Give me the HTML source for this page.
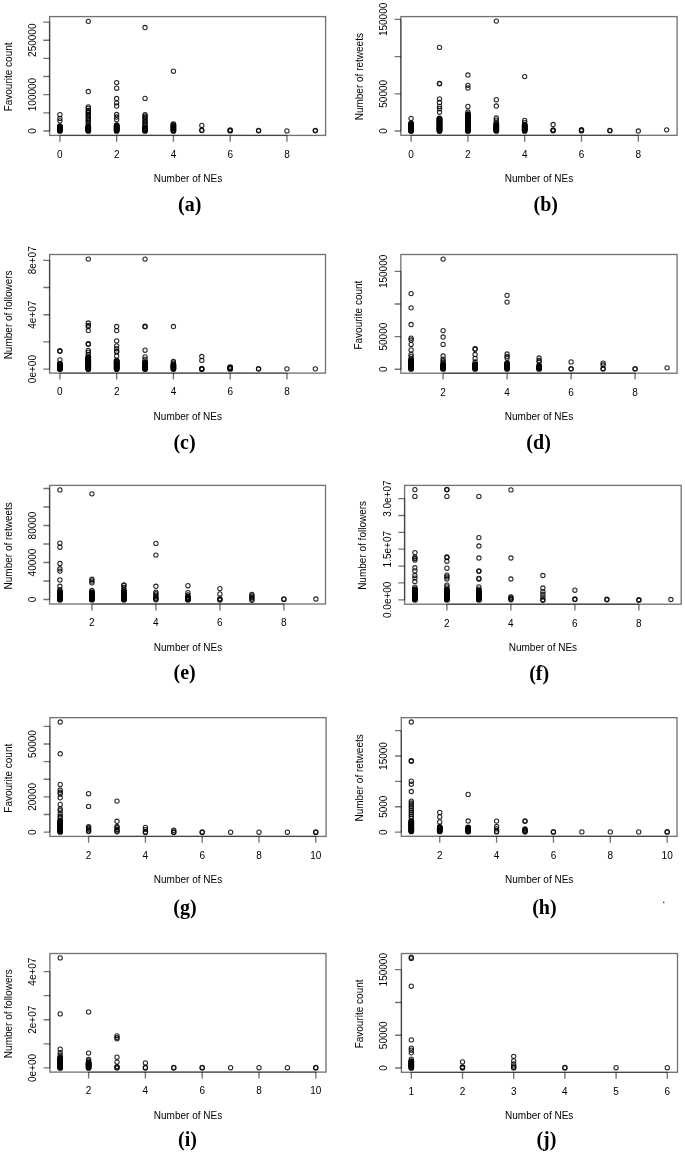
<!DOCTYPE html>
<html><head><meta charset="utf-8"><title>Figure</title>
<style>
html,body{margin:0;padding:0;background:#fff;}
svg{display:block;}
.ln{fill:none;stroke:#000;stroke-opacity:0.55;stroke-width:1.35;}
.ax{fill:none;stroke:#000;stroke-opacity:0.4;stroke-width:1.35;}
.t{font-family:"Liberation Sans", sans-serif;font-size:10px;fill:#000;}
.cap{font-family:"Liberation Serif", serif;font-weight:bold;font-size:20px;fill:#000;}
.c circle{fill:none;stroke:#000;stroke-opacity:0.85;stroke-width:1.05;}
.c circle.d{stroke-width:1.2;}
</style></head>
<body>
<svg width="685" height="1153" viewBox="0 0 685 1153" style="will-change:transform">
<rect width="685" height="1153" fill="#fff"/>
<rect x="49.6" y="16.6" width="276" height="118.8" class="ln"/>
<path d="M59.9 135.4H286.94M49.6 22.05V131" class="ax"/>
<path d="M59.9 135.4V141.8M116.66 135.4V141.8M173.42 135.4V141.8M230.18 135.4V141.8M286.94 135.4V141.8M49.6 131H43.3M49.6 112.84H43.3M49.6 94.68H43.3M49.6 76.53H43.3M49.6 58.37H43.3M49.6 40.21H43.3M49.6 22.05H43.3" class="ln"/>
<text x="59.9" y="157.7" class="t" text-anchor="middle">0</text>
<text x="116.66" y="157.7" class="t" text-anchor="middle">2</text>
<text x="173.42" y="157.7" class="t" text-anchor="middle">4</text>
<text x="230.18" y="157.7" class="t" text-anchor="middle">6</text>
<text x="286.94" y="157.7" class="t" text-anchor="middle">8</text>
<text transform="translate(35.9 131) rotate(-90)" class="t" text-anchor="middle">0</text>
<text transform="translate(35.9 94.5) rotate(-90)" class="t" text-anchor="middle">100000</text>
<text transform="translate(35.9 40.2) rotate(-90)" class="t" text-anchor="middle">250000</text>
<text transform="translate(11.8 76.9) rotate(-90)" class="t" text-anchor="middle">Favourite count</text>
<text x="188" y="182" class="t" text-anchor="middle">Number of NEs</text>
<text x="189.7" y="210.9" class="cap" text-anchor="middle">(a)</text>
<g class="c"><circle cx="59.9" cy="114.7" r="2.15"/><circle cx="59.9" cy="118.4" r="2.15"/><circle cx="59.9" cy="120.8" r="2.15"/><circle cx="59.9" cy="126" r="2.25" class="d"/><circle cx="59.9" cy="126.5" r="2.25" class="d"/><circle cx="59.9" cy="127" r="2.25" class="d"/><circle cx="59.9" cy="127.5" r="2.25" class="d"/><circle cx="59.9" cy="128" r="2.25" class="d"/><circle cx="59.9" cy="128.5" r="2.25" class="d"/><circle cx="59.9" cy="129" r="2.25" class="d"/><circle cx="59.9" cy="129.5" r="2.25" class="d"/><circle cx="59.9" cy="130" r="2.25" class="d"/><circle cx="59.9" cy="130.5" r="2.25" class="d"/><circle cx="59.9" cy="130.9" r="2.25" class="d"/><circle cx="88.28" cy="21.3" r="2.15"/><circle cx="88.28" cy="91.5" r="2.15"/><circle cx="88.28" cy="106.9" r="2.15"/><circle cx="88.28" cy="108.3" r="2.15"/><circle cx="88.28" cy="110.5" r="2.15"/><circle cx="88.28" cy="111.6" r="2.15"/><circle cx="88.28" cy="112.7" r="2.15"/><circle cx="88.28" cy="114.1" r="2.15"/><circle cx="88.28" cy="115.5" r="2.15"/><circle cx="88.28" cy="116.8" r="2.15"/><circle cx="88.28" cy="118.4" r="2.15"/><circle cx="88.28" cy="119.8" r="2.15"/><circle cx="88.28" cy="121.2" r="2.15"/><circle cx="88.28" cy="123" r="2.15"/><circle cx="88.28" cy="124.6" r="2.15"/><circle cx="88.28" cy="126.5" r="2.25" class="d"/><circle cx="88.28" cy="127" r="2.25" class="d"/><circle cx="88.28" cy="127.5" r="2.25" class="d"/><circle cx="88.28" cy="128" r="2.25" class="d"/><circle cx="88.28" cy="128.5" r="2.25" class="d"/><circle cx="88.28" cy="129" r="2.25" class="d"/><circle cx="88.28" cy="129.5" r="2.25" class="d"/><circle cx="88.28" cy="130" r="2.25" class="d"/><circle cx="88.28" cy="130.5" r="2.25" class="d"/><circle cx="88.28" cy="130.9" r="2.25" class="d"/><circle cx="116.66" cy="82.6" r="2.15"/><circle cx="116.66" cy="88.2" r="2.15"/><circle cx="116.66" cy="98.5" r="2.15"/><circle cx="116.66" cy="102.8" r="2.15"/><circle cx="116.66" cy="106" r="2.15"/><circle cx="116.66" cy="114.5" r="2.15"/><circle cx="116.66" cy="117" r="2.15"/><circle cx="116.66" cy="119.7" r="2.15"/><circle cx="116.66" cy="125" r="2.25" class="d"/><circle cx="116.66" cy="125.5" r="2.25" class="d"/><circle cx="116.66" cy="126" r="2.25" class="d"/><circle cx="116.66" cy="126.5" r="2.25" class="d"/><circle cx="116.66" cy="127" r="2.25" class="d"/><circle cx="116.66" cy="127.5" r="2.25" class="d"/><circle cx="116.66" cy="128" r="2.25" class="d"/><circle cx="116.66" cy="128.5" r="2.25" class="d"/><circle cx="116.66" cy="129" r="2.25" class="d"/><circle cx="116.66" cy="129.5" r="2.25" class="d"/><circle cx="116.66" cy="130" r="2.25" class="d"/><circle cx="116.66" cy="130.5" r="2.25" class="d"/><circle cx="116.66" cy="130.9" r="2.25" class="d"/><circle cx="145.04" cy="27.5" r="2.15"/><circle cx="145.04" cy="98.4" r="2.15"/><circle cx="145.04" cy="114.7" r="2.15"/><circle cx="145.04" cy="116" r="2.15"/><circle cx="145.04" cy="117.4" r="2.15"/><circle cx="145.04" cy="118.8" r="2.15"/><circle cx="145.04" cy="120.2" r="2.15"/><circle cx="145.04" cy="121.6" r="2.15"/><circle cx="145.04" cy="123" r="2.15"/><circle cx="145.04" cy="124.4" r="2.15"/><circle cx="145.04" cy="125.8" r="2.15"/><circle cx="145.04" cy="127.5" r="2.25" class="d"/><circle cx="145.04" cy="128" r="2.25" class="d"/><circle cx="145.04" cy="128.5" r="2.25" class="d"/><circle cx="145.04" cy="129" r="2.25" class="d"/><circle cx="145.04" cy="129.5" r="2.25" class="d"/><circle cx="145.04" cy="130" r="2.25" class="d"/><circle cx="145.04" cy="130.5" r="2.25" class="d"/><circle cx="145.04" cy="130.9" r="2.25" class="d"/><circle cx="173.42" cy="71.2" r="2.15"/><circle cx="173.42" cy="124.2" r="2.25" class="d"/><circle cx="173.42" cy="125" r="2.25" class="d"/><circle cx="173.42" cy="125.8" r="2.25" class="d"/><circle cx="173.42" cy="126.6" r="2.25" class="d"/><circle cx="173.42" cy="127.4" r="2.25" class="d"/><circle cx="173.42" cy="128.2" r="2.25" class="d"/><circle cx="173.42" cy="129" r="2.25" class="d"/><circle cx="173.42" cy="129.8" r="2.25" class="d"/><circle cx="173.42" cy="130.6" r="2.25" class="d"/><circle cx="173.42" cy="130.9" r="2.25" class="d"/><circle cx="201.8" cy="125.4" r="2.15"/><circle cx="201.8" cy="130.05" r="2.15"/><circle cx="201.8" cy="130.55" r="2.15"/><circle cx="230.18" cy="129.9" r="2.15"/><circle cx="230.18" cy="130.4" r="2.15"/><circle cx="230.18" cy="130.9" r="2.15"/><circle cx="258.56" cy="130.35" r="2.15"/><circle cx="258.56" cy="130.85" r="2.15"/><circle cx="286.94" cy="130.9" r="2.15"/><circle cx="315.32" cy="130.35" r="2.15"/><circle cx="315.32" cy="130.85" r="2.15"/></g>
<rect x="400.85" y="16.6" width="276.25" height="118.7" class="ln"/>
<path d="M411.1 135.3H638.3M400.85 19.4V131" class="ax"/>
<path d="M411.1 135.3V141.7M467.9 135.3V141.7M524.7 135.3V141.7M581.5 135.3V141.7M638.3 135.3V141.7M400.85 131H394.55M400.85 93.8H394.55M400.85 56.6H394.55M400.85 19.4H394.55" class="ln"/>
<text x="411.1" y="157.6" class="t" text-anchor="middle">0</text>
<text x="467.9" y="157.6" class="t" text-anchor="middle">2</text>
<text x="524.7" y="157.6" class="t" text-anchor="middle">4</text>
<text x="581.5" y="157.6" class="t" text-anchor="middle">6</text>
<text x="638.3" y="157.6" class="t" text-anchor="middle">8</text>
<text transform="translate(387.2 131) rotate(-90)" class="t" text-anchor="middle">0</text>
<text transform="translate(387.2 93.8) rotate(-90)" class="t" text-anchor="middle">50000</text>
<text transform="translate(387.2 19.4) rotate(-90)" class="t" text-anchor="middle">150000</text>
<text transform="translate(362.6 76.7) rotate(-90)" class="t" text-anchor="middle">Number of retweets</text>
<text x="539" y="181.9" class="t" text-anchor="middle">Number of NEs</text>
<text x="545.8" y="211" class="cap" text-anchor="middle">(b)</text>
<g class="c"><circle cx="411.1" cy="118.4" r="2.15"/><circle cx="411.1" cy="123.3" r="2.25" class="d"/><circle cx="411.1" cy="123.8" r="2.25" class="d"/><circle cx="411.1" cy="124.3" r="2.25" class="d"/><circle cx="411.1" cy="124.8" r="2.25" class="d"/><circle cx="411.1" cy="125.3" r="2.25" class="d"/><circle cx="411.1" cy="125.8" r="2.25" class="d"/><circle cx="411.1" cy="126.3" r="2.25" class="d"/><circle cx="411.1" cy="126.8" r="2.25" class="d"/><circle cx="411.1" cy="127.3" r="2.25" class="d"/><circle cx="411.1" cy="127.8" r="2.25" class="d"/><circle cx="411.1" cy="128.3" r="2.25" class="d"/><circle cx="411.1" cy="128.8" r="2.25" class="d"/><circle cx="411.1" cy="129.3" r="2.25" class="d"/><circle cx="411.1" cy="129.8" r="2.25" class="d"/><circle cx="411.1" cy="130.3" r="2.25" class="d"/><circle cx="411.1" cy="130.8" r="2.25" class="d"/><circle cx="411.1" cy="131" r="2.25" class="d"/><circle cx="439.5" cy="47.4" r="2.15"/><circle cx="439.5" cy="83.35" r="2.15"/><circle cx="439.5" cy="83.85" r="2.15"/><circle cx="439.5" cy="98.8" r="2.15"/><circle cx="439.5" cy="102.5" r="2.15"/><circle cx="439.5" cy="106.4" r="2.15"/><circle cx="439.5" cy="108.7" r="2.15"/><circle cx="439.5" cy="112.2" r="2.15"/><circle cx="439.5" cy="118.3" r="2.25" class="d"/><circle cx="439.5" cy="118.8" r="2.25" class="d"/><circle cx="439.5" cy="119.3" r="2.25" class="d"/><circle cx="439.5" cy="119.8" r="2.25" class="d"/><circle cx="439.5" cy="120.3" r="2.25" class="d"/><circle cx="439.5" cy="120.8" r="2.25" class="d"/><circle cx="439.5" cy="121.3" r="2.25" class="d"/><circle cx="439.5" cy="121.8" r="2.25" class="d"/><circle cx="439.5" cy="122.3" r="2.25" class="d"/><circle cx="439.5" cy="122.8" r="2.25" class="d"/><circle cx="439.5" cy="123.3" r="2.25" class="d"/><circle cx="439.5" cy="123.8" r="2.25" class="d"/><circle cx="439.5" cy="124.3" r="2.25" class="d"/><circle cx="439.5" cy="124.8" r="2.25" class="d"/><circle cx="439.5" cy="125.3" r="2.25" class="d"/><circle cx="439.5" cy="125.8" r="2.25" class="d"/><circle cx="439.5" cy="126.3" r="2.25" class="d"/><circle cx="439.5" cy="126.8" r="2.25" class="d"/><circle cx="439.5" cy="127.3" r="2.25" class="d"/><circle cx="439.5" cy="127.8" r="2.25" class="d"/><circle cx="439.5" cy="128.3" r="2.25" class="d"/><circle cx="439.5" cy="128.8" r="2.25" class="d"/><circle cx="439.5" cy="129.3" r="2.25" class="d"/><circle cx="439.5" cy="129.8" r="2.25" class="d"/><circle cx="439.5" cy="130.3" r="2.25" class="d"/><circle cx="439.5" cy="130.8" r="2.25" class="d"/><circle cx="439.5" cy="130.9" r="2.25" class="d"/><circle cx="467.9" cy="75" r="2.15"/><circle cx="467.9" cy="85.3" r="2.15"/><circle cx="467.9" cy="88" r="2.15"/><circle cx="467.9" cy="106.4" r="2.15"/><circle cx="467.9" cy="112" r="2.15"/><circle cx="467.9" cy="114.2" r="2.25" class="d"/><circle cx="467.9" cy="114.7" r="2.25" class="d"/><circle cx="467.9" cy="115.2" r="2.25" class="d"/><circle cx="467.9" cy="115.7" r="2.25" class="d"/><circle cx="467.9" cy="116.2" r="2.25" class="d"/><circle cx="467.9" cy="116.7" r="2.25" class="d"/><circle cx="467.9" cy="117.2" r="2.25" class="d"/><circle cx="467.9" cy="117.7" r="2.25" class="d"/><circle cx="467.9" cy="118.2" r="2.25" class="d"/><circle cx="467.9" cy="118.7" r="2.25" class="d"/><circle cx="467.9" cy="119.2" r="2.25" class="d"/><circle cx="467.9" cy="119.7" r="2.25" class="d"/><circle cx="467.9" cy="120.2" r="2.25" class="d"/><circle cx="467.9" cy="120.7" r="2.25" class="d"/><circle cx="467.9" cy="121.2" r="2.25" class="d"/><circle cx="467.9" cy="121.7" r="2.25" class="d"/><circle cx="467.9" cy="122.2" r="2.25" class="d"/><circle cx="467.9" cy="122.7" r="2.25" class="d"/><circle cx="467.9" cy="123.2" r="2.25" class="d"/><circle cx="467.9" cy="123.7" r="2.25" class="d"/><circle cx="467.9" cy="124.2" r="2.25" class="d"/><circle cx="467.9" cy="124.7" r="2.25" class="d"/><circle cx="467.9" cy="125.2" r="2.25" class="d"/><circle cx="467.9" cy="125.7" r="2.25" class="d"/><circle cx="467.9" cy="126.2" r="2.25" class="d"/><circle cx="467.9" cy="126.7" r="2.25" class="d"/><circle cx="467.9" cy="127.2" r="2.25" class="d"/><circle cx="467.9" cy="127.7" r="2.25" class="d"/><circle cx="467.9" cy="128.2" r="2.25" class="d"/><circle cx="467.9" cy="128.7" r="2.25" class="d"/><circle cx="467.9" cy="129.2" r="2.25" class="d"/><circle cx="467.9" cy="129.7" r="2.25" class="d"/><circle cx="467.9" cy="130.2" r="2.25" class="d"/><circle cx="467.9" cy="130.7" r="2.25" class="d"/><circle cx="467.9" cy="130.9" r="2.25" class="d"/><circle cx="496.3" cy="21.1" r="2.15"/><circle cx="496.3" cy="99.7" r="2.15"/><circle cx="496.3" cy="106" r="2.15"/><circle cx="496.3" cy="118" r="2.15"/><circle cx="496.3" cy="120.2" r="2.15"/><circle cx="496.3" cy="122.4" r="2.15"/><circle cx="496.3" cy="124" r="2.25" class="d"/><circle cx="496.3" cy="124.5" r="2.25" class="d"/><circle cx="496.3" cy="125" r="2.25" class="d"/><circle cx="496.3" cy="125.5" r="2.25" class="d"/><circle cx="496.3" cy="126" r="2.25" class="d"/><circle cx="496.3" cy="126.5" r="2.25" class="d"/><circle cx="496.3" cy="127" r="2.25" class="d"/><circle cx="496.3" cy="127.5" r="2.25" class="d"/><circle cx="496.3" cy="128" r="2.25" class="d"/><circle cx="496.3" cy="128.5" r="2.25" class="d"/><circle cx="496.3" cy="129" r="2.25" class="d"/><circle cx="496.3" cy="129.5" r="2.25" class="d"/><circle cx="496.3" cy="130" r="2.25" class="d"/><circle cx="496.3" cy="130.5" r="2.25" class="d"/><circle cx="496.3" cy="130.9" r="2.25" class="d"/><circle cx="524.7" cy="76.6" r="2.15"/><circle cx="524.7" cy="120.4" r="2.15"/><circle cx="524.7" cy="122.6" r="2.15"/><circle cx="524.7" cy="124.8" r="2.15"/><circle cx="524.7" cy="125" r="2.25" class="d"/><circle cx="524.7" cy="125.5" r="2.25" class="d"/><circle cx="524.7" cy="126" r="2.25" class="d"/><circle cx="524.7" cy="126.5" r="2.25" class="d"/><circle cx="524.7" cy="127" r="2.25" class="d"/><circle cx="524.7" cy="127.5" r="2.25" class="d"/><circle cx="524.7" cy="128" r="2.25" class="d"/><circle cx="524.7" cy="128.5" r="2.25" class="d"/><circle cx="524.7" cy="129" r="2.25" class="d"/><circle cx="524.7" cy="129.5" r="2.25" class="d"/><circle cx="524.7" cy="130" r="2.25" class="d"/><circle cx="524.7" cy="130.5" r="2.25" class="d"/><circle cx="524.7" cy="130.9" r="2.25" class="d"/><circle cx="553.1" cy="124.5" r="2.15"/><circle cx="553.1" cy="129.8" r="2.15"/><circle cx="553.1" cy="130.3" r="2.15"/><circle cx="553.1" cy="130.8" r="2.15"/><circle cx="581.5" cy="129.6" r="2.15"/><circle cx="581.5" cy="130.2" r="2.15"/><circle cx="581.5" cy="130.9" r="2.15"/><circle cx="609.9" cy="130.35" r="2.15"/><circle cx="609.9" cy="130.85" r="2.15"/><circle cx="638.3" cy="131" r="2.15"/><circle cx="666.7" cy="129.8" r="2.15"/></g>
<rect x="49.6" y="254.5" width="275.9" height="118.6" class="ln"/>
<path d="M59.9 373.1H286.94M49.6 260.3V369.1" class="ax"/>
<path d="M59.9 373.1V379.5M116.66 373.1V379.5M173.42 373.1V379.5M230.18 373.1V379.5M286.94 373.1V379.5M49.6 369.1H43.3M49.6 341.9H43.3M49.6 314.7H43.3M49.6 287.5H43.3M49.6 260.3H43.3" class="ln"/>
<text x="59.9" y="395.4" class="t" text-anchor="middle">0</text>
<text x="116.66" y="395.4" class="t" text-anchor="middle">2</text>
<text x="173.42" y="395.4" class="t" text-anchor="middle">4</text>
<text x="230.18" y="395.4" class="t" text-anchor="middle">6</text>
<text x="286.94" y="395.4" class="t" text-anchor="middle">8</text>
<text transform="translate(36.1 369.1) rotate(-90)" class="t" text-anchor="middle">0e+00</text>
<text transform="translate(36.1 314.7) rotate(-90)" class="t" text-anchor="middle">4e+07</text>
<text transform="translate(36.1 260.3) rotate(-90)" class="t" text-anchor="middle">8e+07</text>
<text transform="translate(12 314.9) rotate(-90)" class="t" text-anchor="middle">Number of followers</text>
<text x="187.8" y="419.7" class="t" text-anchor="middle">Number of NEs</text>
<text x="184.5" y="449.1" class="cap" text-anchor="middle">(c)</text>
<g class="c"><circle cx="59.9" cy="350.75" r="2.15"/><circle cx="59.9" cy="351.25" r="2.15"/><circle cx="59.9" cy="359.8" r="2.15"/><circle cx="59.9" cy="363.5" r="2.25" class="d"/><circle cx="59.9" cy="364" r="2.25" class="d"/><circle cx="59.9" cy="364.5" r="2.25" class="d"/><circle cx="59.9" cy="365" r="2.25" class="d"/><circle cx="59.9" cy="365.5" r="2.25" class="d"/><circle cx="59.9" cy="366" r="2.25" class="d"/><circle cx="59.9" cy="366.5" r="2.25" class="d"/><circle cx="59.9" cy="367" r="2.25" class="d"/><circle cx="59.9" cy="367.5" r="2.25" class="d"/><circle cx="59.9" cy="368" r="2.25" class="d"/><circle cx="59.9" cy="368.5" r="2.25" class="d"/><circle cx="59.9" cy="369" r="2.25" class="d"/><circle cx="59.9" cy="369.1" r="2.25" class="d"/><circle cx="88.28" cy="259.1" r="2.15"/><circle cx="88.28" cy="323" r="2.15"/><circle cx="88.28" cy="325.3" r="2.15"/><circle cx="88.28" cy="326.5" r="2.15"/><circle cx="88.28" cy="330.6" r="2.15"/><circle cx="88.28" cy="343.75" r="2.15"/><circle cx="88.28" cy="344.25" r="2.15"/><circle cx="88.28" cy="350.4" r="2.15"/><circle cx="88.28" cy="352.2" r="2.15"/><circle cx="88.28" cy="354.5" r="2.15"/><circle cx="88.28" cy="357" r="2.25" class="d"/><circle cx="88.28" cy="357.5" r="2.25" class="d"/><circle cx="88.28" cy="358" r="2.25" class="d"/><circle cx="88.28" cy="358.5" r="2.25" class="d"/><circle cx="88.28" cy="359" r="2.25" class="d"/><circle cx="88.28" cy="359.5" r="2.25" class="d"/><circle cx="88.28" cy="360" r="2.25" class="d"/><circle cx="88.28" cy="360.5" r="2.25" class="d"/><circle cx="88.28" cy="361" r="2.25" class="d"/><circle cx="88.28" cy="361.5" r="2.25" class="d"/><circle cx="88.28" cy="362" r="2.25" class="d"/><circle cx="88.28" cy="362.5" r="2.25" class="d"/><circle cx="88.28" cy="363" r="2.25" class="d"/><circle cx="88.28" cy="363.5" r="2.25" class="d"/><circle cx="88.28" cy="364" r="2.25" class="d"/><circle cx="88.28" cy="364.5" r="2.25" class="d"/><circle cx="88.28" cy="365" r="2.25" class="d"/><circle cx="88.28" cy="365.5" r="2.25" class="d"/><circle cx="88.28" cy="366" r="2.25" class="d"/><circle cx="88.28" cy="366.5" r="2.25" class="d"/><circle cx="88.28" cy="367" r="2.25" class="d"/><circle cx="88.28" cy="367.5" r="2.25" class="d"/><circle cx="88.28" cy="368" r="2.25" class="d"/><circle cx="88.28" cy="368.5" r="2.25" class="d"/><circle cx="88.28" cy="369" r="2.25" class="d"/><circle cx="88.28" cy="369.1" r="2.25" class="d"/><circle cx="116.66" cy="326.5" r="2.15"/><circle cx="116.66" cy="330.6" r="2.15"/><circle cx="116.66" cy="340.9" r="2.15"/><circle cx="116.66" cy="345.8" r="2.15"/><circle cx="116.66" cy="348.7" r="2.15"/><circle cx="116.66" cy="351.15" r="2.15"/><circle cx="116.66" cy="351.65" r="2.15"/><circle cx="116.66" cy="356" r="2.15"/><circle cx="116.66" cy="360.5" r="2.25" class="d"/><circle cx="116.66" cy="361" r="2.25" class="d"/><circle cx="116.66" cy="361.5" r="2.25" class="d"/><circle cx="116.66" cy="362" r="2.25" class="d"/><circle cx="116.66" cy="362.5" r="2.25" class="d"/><circle cx="116.66" cy="363" r="2.25" class="d"/><circle cx="116.66" cy="363.5" r="2.25" class="d"/><circle cx="116.66" cy="364" r="2.25" class="d"/><circle cx="116.66" cy="364.5" r="2.25" class="d"/><circle cx="116.66" cy="365" r="2.25" class="d"/><circle cx="116.66" cy="365.5" r="2.25" class="d"/><circle cx="116.66" cy="366" r="2.25" class="d"/><circle cx="116.66" cy="366.5" r="2.25" class="d"/><circle cx="116.66" cy="367" r="2.25" class="d"/><circle cx="116.66" cy="367.5" r="2.25" class="d"/><circle cx="116.66" cy="368" r="2.25" class="d"/><circle cx="116.66" cy="368.5" r="2.25" class="d"/><circle cx="116.66" cy="369" r="2.25" class="d"/><circle cx="116.66" cy="369.1" r="2.25" class="d"/><circle cx="145.04" cy="259.1" r="2.15"/><circle cx="145.04" cy="326.25" r="2.15"/><circle cx="145.04" cy="326.75" r="2.15"/><circle cx="145.04" cy="350.2" r="2.15"/><circle cx="145.04" cy="356.9" r="2.15"/><circle cx="145.04" cy="359.3" r="2.15"/><circle cx="145.04" cy="362" r="2.25" class="d"/><circle cx="145.04" cy="362.5" r="2.25" class="d"/><circle cx="145.04" cy="363" r="2.25" class="d"/><circle cx="145.04" cy="363.5" r="2.25" class="d"/><circle cx="145.04" cy="364" r="2.25" class="d"/><circle cx="145.04" cy="364.5" r="2.25" class="d"/><circle cx="145.04" cy="365" r="2.25" class="d"/><circle cx="145.04" cy="365.5" r="2.25" class="d"/><circle cx="145.04" cy="366" r="2.25" class="d"/><circle cx="145.04" cy="366.5" r="2.25" class="d"/><circle cx="145.04" cy="367" r="2.25" class="d"/><circle cx="145.04" cy="367.5" r="2.25" class="d"/><circle cx="145.04" cy="368" r="2.25" class="d"/><circle cx="145.04" cy="368.5" r="2.25" class="d"/><circle cx="145.04" cy="369" r="2.25" class="d"/><circle cx="145.04" cy="369.1" r="2.25" class="d"/><circle cx="173.42" cy="326.5" r="2.15"/><circle cx="173.42" cy="361.5" r="2.15"/><circle cx="173.42" cy="363" r="2.15"/><circle cx="173.42" cy="364.5" r="2.25" class="d"/><circle cx="173.42" cy="365.2" r="2.25" class="d"/><circle cx="173.42" cy="365.9" r="2.25" class="d"/><circle cx="173.42" cy="366.6" r="2.25" class="d"/><circle cx="173.42" cy="367.3" r="2.25" class="d"/><circle cx="173.42" cy="368" r="2.25" class="d"/><circle cx="173.42" cy="368.7" r="2.25" class="d"/><circle cx="173.42" cy="369.1" r="2.25" class="d"/><circle cx="201.8" cy="356.5" r="2.15"/><circle cx="201.8" cy="360.4" r="2.15"/><circle cx="201.8" cy="368.4" r="2.15"/><circle cx="201.8" cy="368.9" r="2.15"/><circle cx="201.8" cy="369.4" r="2.15"/><circle cx="230.18" cy="367" r="2.25" class="d"/><circle cx="230.18" cy="367.5" r="2.25" class="d"/><circle cx="230.18" cy="368" r="2.25" class="d"/><circle cx="230.18" cy="368.5" r="2.25" class="d"/><circle cx="230.18" cy="369" r="2.25" class="d"/><circle cx="258.56" cy="368.55" r="2.15"/><circle cx="258.56" cy="369.05" r="2.15"/><circle cx="286.94" cy="368.8" r="2.15"/><circle cx="315.32" cy="368.8" r="2.15"/></g>
<rect x="400.85" y="254.5" width="276.25" height="118.7" class="ln"/>
<path d="M443.1 373.2H635.1M400.85 271.4V369.2" class="ax"/>
<path d="M443.1 373.2V379.6M507.1 373.2V379.6M571.1 373.2V379.6M635.1 373.2V379.6M400.85 369.2H394.55M400.85 336.6H394.55M400.85 304H394.55M400.85 271.4H394.55" class="ln"/>
<text x="443.1" y="395.5" class="t" text-anchor="middle">2</text>
<text x="507.1" y="395.5" class="t" text-anchor="middle">4</text>
<text x="571.1" y="395.5" class="t" text-anchor="middle">6</text>
<text x="635.1" y="395.5" class="t" text-anchor="middle">8</text>
<text transform="translate(387.2 369.2) rotate(-90)" class="t" text-anchor="middle">0</text>
<text transform="translate(387.2 336.6) rotate(-90)" class="t" text-anchor="middle">50000</text>
<text transform="translate(387.2 271.4) rotate(-90)" class="t" text-anchor="middle">150000</text>
<text transform="translate(362.4 315.1) rotate(-90)" class="t" text-anchor="middle">Favourite count</text>
<text x="539" y="419.8" class="t" text-anchor="middle">Number of NEs</text>
<text x="538.6" y="448.6" class="cap" text-anchor="middle">(d)</text>
<g class="c"><circle cx="411.1" cy="293.6" r="2.15"/><circle cx="411.1" cy="307.8" r="2.15"/><circle cx="411.1" cy="324.5" r="2.15"/><circle cx="411.1" cy="338.2" r="2.15"/><circle cx="411.1" cy="340" r="2.15"/><circle cx="411.1" cy="344.4" r="2.15"/><circle cx="411.1" cy="349.9" r="2.15"/><circle cx="411.1" cy="354.5" r="2.15"/><circle cx="411.1" cy="356.7" r="2.15"/><circle cx="411.1" cy="358.9" r="2.15"/><circle cx="411.1" cy="360" r="2.25" class="d"/><circle cx="411.1" cy="360.5" r="2.25" class="d"/><circle cx="411.1" cy="361" r="2.25" class="d"/><circle cx="411.1" cy="361.5" r="2.25" class="d"/><circle cx="411.1" cy="362" r="2.25" class="d"/><circle cx="411.1" cy="362.5" r="2.25" class="d"/><circle cx="411.1" cy="363" r="2.25" class="d"/><circle cx="411.1" cy="363.5" r="2.25" class="d"/><circle cx="411.1" cy="364" r="2.25" class="d"/><circle cx="411.1" cy="364.5" r="2.25" class="d"/><circle cx="411.1" cy="365" r="2.25" class="d"/><circle cx="411.1" cy="365.5" r="2.25" class="d"/><circle cx="411.1" cy="366" r="2.25" class="d"/><circle cx="411.1" cy="366.5" r="2.25" class="d"/><circle cx="411.1" cy="367" r="2.25" class="d"/><circle cx="411.1" cy="367.5" r="2.25" class="d"/><circle cx="411.1" cy="368" r="2.25" class="d"/><circle cx="411.1" cy="368.5" r="2.25" class="d"/><circle cx="411.1" cy="368.9" r="2.25" class="d"/><circle cx="443.1" cy="259.1" r="2.15"/><circle cx="443.1" cy="330.6" r="2.15"/><circle cx="443.1" cy="337" r="2.15"/><circle cx="443.1" cy="344.4" r="2.15"/><circle cx="443.1" cy="356" r="2.15"/><circle cx="443.1" cy="359.2" r="2.15"/><circle cx="443.1" cy="361" r="2.15"/><circle cx="443.1" cy="362.7" r="2.15"/><circle cx="443.1" cy="364.5" r="2.25" class="d"/><circle cx="443.1" cy="365" r="2.25" class="d"/><circle cx="443.1" cy="365.5" r="2.25" class="d"/><circle cx="443.1" cy="366" r="2.25" class="d"/><circle cx="443.1" cy="366.5" r="2.25" class="d"/><circle cx="443.1" cy="367" r="2.25" class="d"/><circle cx="443.1" cy="367.5" r="2.25" class="d"/><circle cx="443.1" cy="368" r="2.25" class="d"/><circle cx="443.1" cy="368.5" r="2.25" class="d"/><circle cx="443.1" cy="368.9" r="2.25" class="d"/><circle cx="475.1" cy="348.75" r="2.15"/><circle cx="475.1" cy="349.25" r="2.15"/><circle cx="475.1" cy="354.5" r="2.15"/><circle cx="475.1" cy="358.4" r="2.15"/><circle cx="475.1" cy="362" r="2.15"/><circle cx="475.1" cy="364" r="2.25" class="d"/><circle cx="475.1" cy="364.5" r="2.25" class="d"/><circle cx="475.1" cy="365" r="2.25" class="d"/><circle cx="475.1" cy="365.5" r="2.25" class="d"/><circle cx="475.1" cy="366" r="2.25" class="d"/><circle cx="475.1" cy="366.5" r="2.25" class="d"/><circle cx="475.1" cy="367" r="2.25" class="d"/><circle cx="475.1" cy="367.5" r="2.25" class="d"/><circle cx="475.1" cy="368" r="2.25" class="d"/><circle cx="475.1" cy="368.5" r="2.25" class="d"/><circle cx="475.1" cy="368.9" r="2.25" class="d"/><circle cx="507.1" cy="295.3" r="2.15"/><circle cx="507.1" cy="302.1" r="2.15"/><circle cx="507.1" cy="354" r="2.15"/><circle cx="507.1" cy="356.3" r="2.15"/><circle cx="507.1" cy="358" r="2.15"/><circle cx="507.1" cy="362.7" r="2.15"/><circle cx="507.1" cy="363.5" r="2.25" class="d"/><circle cx="507.1" cy="364" r="2.25" class="d"/><circle cx="507.1" cy="364.5" r="2.25" class="d"/><circle cx="507.1" cy="365" r="2.25" class="d"/><circle cx="507.1" cy="365.5" r="2.25" class="d"/><circle cx="507.1" cy="366" r="2.25" class="d"/><circle cx="507.1" cy="366.5" r="2.25" class="d"/><circle cx="507.1" cy="367" r="2.25" class="d"/><circle cx="507.1" cy="367.5" r="2.25" class="d"/><circle cx="507.1" cy="368" r="2.25" class="d"/><circle cx="507.1" cy="368.5" r="2.25" class="d"/><circle cx="507.1" cy="368.9" r="2.25" class="d"/><circle cx="539.1" cy="358" r="2.15"/><circle cx="539.1" cy="360.4" r="2.15"/><circle cx="539.1" cy="362" r="2.15"/><circle cx="539.1" cy="365.6" r="2.15"/><circle cx="539.1" cy="366" r="2.25" class="d"/><circle cx="539.1" cy="366.5" r="2.25" class="d"/><circle cx="539.1" cy="367" r="2.25" class="d"/><circle cx="539.1" cy="367.5" r="2.25" class="d"/><circle cx="539.1" cy="368" r="2.25" class="d"/><circle cx="539.1" cy="368.5" r="2.25" class="d"/><circle cx="539.1" cy="368.9" r="2.25" class="d"/><circle cx="571.1" cy="361.9" r="2.15"/><circle cx="571.1" cy="368.55" r="2.15"/><circle cx="571.1" cy="369.05" r="2.15"/><circle cx="603.1" cy="363.1" r="2.15"/><circle cx="603.1" cy="365" r="2.15"/><circle cx="603.1" cy="368.55" r="2.15"/><circle cx="603.1" cy="369.05" r="2.15"/><circle cx="635.1" cy="368.55" r="2.15"/><circle cx="635.1" cy="369.05" r="2.15"/><circle cx="667.1" cy="367.8" r="2.15"/></g>
<rect x="49.6" y="485.4" width="275.9" height="118.6" class="ln"/>
<path d="M91.9 604H283.9M49.6 488.5V599.5" class="ax"/>
<path d="M91.9 604V610.4M155.9 604V610.4M219.9 604V610.4M283.9 604V610.4M49.6 599.5H43.3M49.6 581H43.3M49.6 562.5H43.3M49.6 544H43.3M49.6 525.5H43.3M49.6 507H43.3M49.6 488.5H43.3" class="ln"/>
<text x="91.9" y="626.3" class="t" text-anchor="middle">2</text>
<text x="155.9" y="626.3" class="t" text-anchor="middle">4</text>
<text x="219.9" y="626.3" class="t" text-anchor="middle">6</text>
<text x="283.9" y="626.3" class="t" text-anchor="middle">8</text>
<text transform="translate(36.1 599.5) rotate(-90)" class="t" text-anchor="middle">0</text>
<text transform="translate(36.1 562.5) rotate(-90)" class="t" text-anchor="middle">40000</text>
<text transform="translate(36.1 525.5) rotate(-90)" class="t" text-anchor="middle">80000</text>
<text transform="translate(11.8 545.8) rotate(-90)" class="t" text-anchor="middle">Number of retweets</text>
<text x="188" y="650.6" class="t" text-anchor="middle">Number of NEs</text>
<text x="184.6" y="679.4" class="cap" text-anchor="middle">(e)</text>
<g class="c"><circle cx="59.9" cy="489.9" r="2.15"/><circle cx="59.9" cy="543.1" r="2.15"/><circle cx="59.9" cy="547.2" r="2.15"/><circle cx="59.9" cy="563.5" r="2.15"/><circle cx="59.9" cy="568.8" r="2.15"/><circle cx="59.9" cy="571.1" r="2.15"/><circle cx="59.9" cy="579.9" r="2.15"/><circle cx="59.9" cy="586.3" r="2.15"/><circle cx="59.9" cy="589.8" r="2.15"/><circle cx="59.9" cy="591.5" r="2.25" class="d"/><circle cx="59.9" cy="592" r="2.25" class="d"/><circle cx="59.9" cy="592.5" r="2.25" class="d"/><circle cx="59.9" cy="593" r="2.25" class="d"/><circle cx="59.9" cy="593.5" r="2.25" class="d"/><circle cx="59.9" cy="594" r="2.25" class="d"/><circle cx="59.9" cy="594.5" r="2.25" class="d"/><circle cx="59.9" cy="595" r="2.25" class="d"/><circle cx="59.9" cy="595.5" r="2.25" class="d"/><circle cx="59.9" cy="596" r="2.25" class="d"/><circle cx="59.9" cy="596.5" r="2.25" class="d"/><circle cx="59.9" cy="597" r="2.25" class="d"/><circle cx="59.9" cy="597.5" r="2.25" class="d"/><circle cx="59.9" cy="598" r="2.25" class="d"/><circle cx="59.9" cy="598.5" r="2.25" class="d"/><circle cx="59.9" cy="599" r="2.25" class="d"/><circle cx="59.9" cy="599.5" r="2.25" class="d"/><circle cx="59.9" cy="599.7" r="2.25" class="d"/><circle cx="91.9" cy="493.8" r="2.15"/><circle cx="91.9" cy="579.3" r="2.15"/><circle cx="91.9" cy="581" r="2.15"/><circle cx="91.9" cy="582.8" r="2.15"/><circle cx="91.9" cy="590.4" r="2.15"/><circle cx="91.9" cy="592" r="2.25" class="d"/><circle cx="91.9" cy="592.5" r="2.25" class="d"/><circle cx="91.9" cy="593" r="2.25" class="d"/><circle cx="91.9" cy="593.5" r="2.25" class="d"/><circle cx="91.9" cy="594" r="2.25" class="d"/><circle cx="91.9" cy="594.5" r="2.25" class="d"/><circle cx="91.9" cy="595" r="2.25" class="d"/><circle cx="91.9" cy="595.5" r="2.25" class="d"/><circle cx="91.9" cy="596" r="2.25" class="d"/><circle cx="91.9" cy="596.5" r="2.25" class="d"/><circle cx="91.9" cy="597" r="2.25" class="d"/><circle cx="91.9" cy="597.5" r="2.25" class="d"/><circle cx="91.9" cy="598" r="2.25" class="d"/><circle cx="91.9" cy="598.5" r="2.25" class="d"/><circle cx="91.9" cy="599" r="2.25" class="d"/><circle cx="91.9" cy="599.5" r="2.25" class="d"/><circle cx="91.9" cy="599.7" r="2.25" class="d"/><circle cx="123.9" cy="584.85" r="2.15"/><circle cx="123.9" cy="585.35" r="2.15"/><circle cx="123.9" cy="587.4" r="2.15"/><circle cx="123.9" cy="589.8" r="2.15"/><circle cx="123.9" cy="591" r="2.25" class="d"/><circle cx="123.9" cy="591.5" r="2.25" class="d"/><circle cx="123.9" cy="592" r="2.25" class="d"/><circle cx="123.9" cy="592.5" r="2.25" class="d"/><circle cx="123.9" cy="593" r="2.25" class="d"/><circle cx="123.9" cy="593.5" r="2.25" class="d"/><circle cx="123.9" cy="594" r="2.25" class="d"/><circle cx="123.9" cy="594.5" r="2.25" class="d"/><circle cx="123.9" cy="595" r="2.25" class="d"/><circle cx="123.9" cy="595.5" r="2.25" class="d"/><circle cx="123.9" cy="596" r="2.25" class="d"/><circle cx="123.9" cy="596.5" r="2.25" class="d"/><circle cx="123.9" cy="597" r="2.25" class="d"/><circle cx="123.9" cy="597.5" r="2.25" class="d"/><circle cx="123.9" cy="598" r="2.25" class="d"/><circle cx="123.9" cy="598.5" r="2.25" class="d"/><circle cx="123.9" cy="599" r="2.25" class="d"/><circle cx="123.9" cy="599.5" r="2.25" class="d"/><circle cx="123.9" cy="599.7" r="2.25" class="d"/><circle cx="155.9" cy="543.4" r="2.15"/><circle cx="155.9" cy="555.1" r="2.15"/><circle cx="155.9" cy="586.3" r="2.15"/><circle cx="155.9" cy="592.1" r="2.15"/><circle cx="155.9" cy="593.6" r="2.15"/><circle cx="155.9" cy="595.1" r="2.15"/><circle cx="155.9" cy="596.6" r="2.15"/><circle cx="155.9" cy="598" r="2.15"/><circle cx="155.9" cy="599" r="2.15"/><circle cx="155.9" cy="599.7" r="2.15"/><circle cx="187.9" cy="585.7" r="2.15"/><circle cx="187.9" cy="592.7" r="2.15"/><circle cx="187.9" cy="595" r="2.15"/><circle cx="187.9" cy="596.8" r="2.15"/><circle cx="187.9" cy="597.5" r="2.25" class="d"/><circle cx="187.9" cy="598" r="2.25" class="d"/><circle cx="187.9" cy="598.5" r="2.25" class="d"/><circle cx="187.9" cy="599" r="2.25" class="d"/><circle cx="187.9" cy="599.5" r="2.25" class="d"/><circle cx="187.9" cy="599.7" r="2.25" class="d"/><circle cx="219.9" cy="588.6" r="2.15"/><circle cx="219.9" cy="593.9" r="2.15"/><circle cx="219.9" cy="598.6" r="2.15"/><circle cx="219.9" cy="599.55" r="2.15"/><circle cx="219.9" cy="600.05" r="2.15"/><circle cx="251.9" cy="594.5" r="2.15"/><circle cx="251.9" cy="596" r="2.15"/><circle cx="251.9" cy="597.5" r="2.15"/><circle cx="251.9" cy="599" r="2.15"/><circle cx="251.9" cy="600.2" r="2.15"/><circle cx="283.9" cy="598.95" r="2.15"/><circle cx="283.9" cy="599.45" r="2.15"/><circle cx="315.9" cy="599" r="2.15"/></g>
<rect x="404.6" y="485.4" width="276.6" height="118.8" class="ln"/>
<path d="M446.9 604.2H638.9M404.6 498.58V599.8" class="ax"/>
<path d="M446.9 604.2V610.6M510.9 604.2V610.6M574.9 604.2V610.6M638.9 604.2V610.6M404.6 599.8H398.3M404.6 582.93H398.3M404.6 566.06H398.3M404.6 549.19H398.3M404.6 532.32H398.3M404.6 515.45H398.3M404.6 498.58H398.3" class="ln"/>
<text x="446.9" y="626.5" class="t" text-anchor="middle">2</text>
<text x="510.9" y="626.5" class="t" text-anchor="middle">4</text>
<text x="574.9" y="626.5" class="t" text-anchor="middle">6</text>
<text x="638.9" y="626.5" class="t" text-anchor="middle">8</text>
<text transform="translate(390.5 599.8) rotate(-90)" class="t" text-anchor="middle">0.0e+00</text>
<text transform="translate(390.5 549.2) rotate(-90)" class="t" text-anchor="middle">1.5e+07</text>
<text transform="translate(390.5 498.6) rotate(-90)" class="t" text-anchor="middle">3.0e+07</text>
<text transform="translate(366.4 545.4) rotate(-90)" class="t" text-anchor="middle">Number of followers</text>
<text x="542.9" y="650.8" class="t" text-anchor="middle">Number of NEs</text>
<text x="539.2" y="679.9" class="cap" text-anchor="middle">(f)</text>
<g class="c"><circle cx="414.9" cy="489.6" r="2.15"/><circle cx="414.9" cy="496.4" r="2.15"/><circle cx="414.9" cy="552.6" r="2.15"/><circle cx="414.9" cy="557.1" r="2.15"/><circle cx="414.9" cy="558.5" r="2.15"/><circle cx="414.9" cy="560" r="2.15"/><circle cx="414.9" cy="567.8" r="2.15"/><circle cx="414.9" cy="570.9" r="2.15"/><circle cx="414.9" cy="575.5" r="2.15"/><circle cx="414.9" cy="578.1" r="2.15"/><circle cx="414.9" cy="581.4" r="2.15"/><circle cx="414.9" cy="587.2" r="2.15"/><circle cx="414.9" cy="589" r="2.25" class="d"/><circle cx="414.9" cy="589.5" r="2.25" class="d"/><circle cx="414.9" cy="590" r="2.25" class="d"/><circle cx="414.9" cy="590.5" r="2.25" class="d"/><circle cx="414.9" cy="591" r="2.25" class="d"/><circle cx="414.9" cy="591.5" r="2.25" class="d"/><circle cx="414.9" cy="592" r="2.25" class="d"/><circle cx="414.9" cy="592.5" r="2.25" class="d"/><circle cx="414.9" cy="593" r="2.25" class="d"/><circle cx="414.9" cy="593.5" r="2.25" class="d"/><circle cx="414.9" cy="594" r="2.25" class="d"/><circle cx="414.9" cy="594.5" r="2.25" class="d"/><circle cx="414.9" cy="595" r="2.25" class="d"/><circle cx="414.9" cy="595.5" r="2.25" class="d"/><circle cx="414.9" cy="596" r="2.25" class="d"/><circle cx="414.9" cy="596.5" r="2.25" class="d"/><circle cx="414.9" cy="597" r="2.25" class="d"/><circle cx="414.9" cy="597.5" r="2.25" class="d"/><circle cx="414.9" cy="598" r="2.25" class="d"/><circle cx="414.9" cy="598.5" r="2.25" class="d"/><circle cx="414.9" cy="599" r="2.25" class="d"/><circle cx="414.9" cy="599.5" r="2.25" class="d"/><circle cx="414.9" cy="599.7" r="2.25" class="d"/><circle cx="446.9" cy="489.35" r="2.15"/><circle cx="446.9" cy="489.85" r="2.15"/><circle cx="446.9" cy="496.4" r="2.15"/><circle cx="446.9" cy="557.05" r="2.15"/><circle cx="446.9" cy="557.55" r="2.15"/><circle cx="446.9" cy="561.2" r="2.15"/><circle cx="446.9" cy="568.2" r="2.15"/><circle cx="446.9" cy="575.2" r="2.15"/><circle cx="446.9" cy="577" r="2.15"/><circle cx="446.9" cy="579" r="2.15"/><circle cx="446.9" cy="585.1" r="2.15"/><circle cx="446.9" cy="586.9" r="2.15"/><circle cx="446.9" cy="589.1" r="2.15"/><circle cx="446.9" cy="590" r="2.25" class="d"/><circle cx="446.9" cy="590.5" r="2.25" class="d"/><circle cx="446.9" cy="591" r="2.25" class="d"/><circle cx="446.9" cy="591.5" r="2.25" class="d"/><circle cx="446.9" cy="592" r="2.25" class="d"/><circle cx="446.9" cy="592.5" r="2.25" class="d"/><circle cx="446.9" cy="593" r="2.25" class="d"/><circle cx="446.9" cy="593.5" r="2.25" class="d"/><circle cx="446.9" cy="594" r="2.25" class="d"/><circle cx="446.9" cy="594.5" r="2.25" class="d"/><circle cx="446.9" cy="595" r="2.25" class="d"/><circle cx="446.9" cy="595.5" r="2.25" class="d"/><circle cx="446.9" cy="596" r="2.25" class="d"/><circle cx="446.9" cy="596.5" r="2.25" class="d"/><circle cx="446.9" cy="597" r="2.25" class="d"/><circle cx="446.9" cy="597.5" r="2.25" class="d"/><circle cx="446.9" cy="598" r="2.25" class="d"/><circle cx="446.9" cy="598.5" r="2.25" class="d"/><circle cx="446.9" cy="599" r="2.25" class="d"/><circle cx="446.9" cy="599.5" r="2.25" class="d"/><circle cx="446.9" cy="599.7" r="2.25" class="d"/><circle cx="478.9" cy="496.4" r="2.15"/><circle cx="478.9" cy="537.6" r="2.15"/><circle cx="478.9" cy="546" r="2.15"/><circle cx="478.9" cy="558" r="2.15"/><circle cx="478.9" cy="570.85" r="2.15"/><circle cx="478.9" cy="571.35" r="2.15"/><circle cx="478.9" cy="578.45" r="2.15"/><circle cx="478.9" cy="578.95" r="2.15"/><circle cx="478.9" cy="586.9" r="2.15"/><circle cx="478.9" cy="589.2" r="2.15"/><circle cx="478.9" cy="590.5" r="2.25" class="d"/><circle cx="478.9" cy="591" r="2.25" class="d"/><circle cx="478.9" cy="591.5" r="2.25" class="d"/><circle cx="478.9" cy="592" r="2.25" class="d"/><circle cx="478.9" cy="592.5" r="2.25" class="d"/><circle cx="478.9" cy="593" r="2.25" class="d"/><circle cx="478.9" cy="593.5" r="2.25" class="d"/><circle cx="478.9" cy="594" r="2.25" class="d"/><circle cx="478.9" cy="594.5" r="2.25" class="d"/><circle cx="478.9" cy="595" r="2.25" class="d"/><circle cx="478.9" cy="595.5" r="2.25" class="d"/><circle cx="478.9" cy="596" r="2.25" class="d"/><circle cx="478.9" cy="596.5" r="2.25" class="d"/><circle cx="478.9" cy="597" r="2.25" class="d"/><circle cx="478.9" cy="597.5" r="2.25" class="d"/><circle cx="478.9" cy="598" r="2.25" class="d"/><circle cx="478.9" cy="598.5" r="2.25" class="d"/><circle cx="478.9" cy="599" r="2.25" class="d"/><circle cx="478.9" cy="599.5" r="2.25" class="d"/><circle cx="478.9" cy="599.7" r="2.25" class="d"/><circle cx="510.9" cy="489.9" r="2.15"/><circle cx="510.9" cy="558" r="2.15"/><circle cx="510.9" cy="579" r="2.15"/><circle cx="510.9" cy="597" r="2.15"/><circle cx="510.9" cy="598" r="2.15"/><circle cx="510.9" cy="599" r="2.15"/><circle cx="510.9" cy="599.7" r="2.15"/><circle cx="542.9" cy="575.5" r="2.15"/><circle cx="542.9" cy="588" r="2.15"/><circle cx="542.9" cy="591.6" r="2.15"/><circle cx="542.9" cy="594.3" r="2.15"/><circle cx="542.9" cy="597" r="2.15"/><circle cx="542.9" cy="599.75" r="2.15"/><circle cx="542.9" cy="600.25" r="2.15"/><circle cx="574.9" cy="590.2" r="2.15"/><circle cx="574.9" cy="599.05" r="2.15"/><circle cx="574.9" cy="599.55" r="2.15"/><circle cx="606.9" cy="599.25" r="2.15"/><circle cx="606.9" cy="599.75" r="2.15"/><circle cx="638.9" cy="599.75" r="2.15"/><circle cx="638.9" cy="600.25" r="2.15"/><circle cx="670.9" cy="599.5" r="2.15"/></g>
<rect x="49.9" y="717.64" width="276.2" height="118.76" class="ln"/>
<path d="M88.6 836.4H315.8M49.9 726.4V832.15" class="ax"/>
<path d="M88.6 836.4V842.8M145.4 836.4V842.8M202.2 836.4V842.8M259 836.4V842.8M315.8 836.4V842.8M49.9 832.15H43.6M49.9 814.52H43.6M49.9 796.9H43.6M49.9 779.27H43.6M49.9 761.65H43.6M49.9 744.02H43.6M49.9 726.4H43.6" class="ln"/>
<text x="88.6" y="858.7" class="t" text-anchor="middle">2</text>
<text x="145.4" y="858.7" class="t" text-anchor="middle">4</text>
<text x="202.2" y="858.7" class="t" text-anchor="middle">6</text>
<text x="259" y="858.7" class="t" text-anchor="middle">8</text>
<text x="315.8" y="858.7" class="t" text-anchor="middle">10</text>
<text transform="translate(36.3 832.15) rotate(-90)" class="t" text-anchor="middle">0</text>
<text transform="translate(36.3 796.9) rotate(-90)" class="t" text-anchor="middle">20000</text>
<text transform="translate(36.3 744) rotate(-90)" class="t" text-anchor="middle">50000</text>
<text transform="translate(12 778.2) rotate(-90)" class="t" text-anchor="middle">Favourite count</text>
<text x="188" y="883" class="t" text-anchor="middle">Number of NEs</text>
<text x="185" y="913.9" class="cap" text-anchor="middle">(g)</text>
<g class="c"><circle cx="60.2" cy="722" r="2.15"/><circle cx="60.2" cy="753.8" r="2.15"/><circle cx="60.2" cy="784.4" r="2.15"/><circle cx="60.2" cy="790" r="2.15"/><circle cx="60.2" cy="792.3" r="2.15"/><circle cx="60.2" cy="793.9" r="2.15"/><circle cx="60.2" cy="797.8" r="2.15"/><circle cx="60.2" cy="804.4" r="2.15"/><circle cx="60.2" cy="809" r="2.15"/><circle cx="60.2" cy="810.7" r="2.15"/><circle cx="60.2" cy="813.7" r="2.15"/><circle cx="60.2" cy="816.3" r="2.15"/><circle cx="60.2" cy="818" r="2.15"/><circle cx="60.2" cy="820.2" r="2.15"/><circle cx="60.2" cy="821" r="2.25" class="d"/><circle cx="60.2" cy="821.5" r="2.25" class="d"/><circle cx="60.2" cy="822" r="2.25" class="d"/><circle cx="60.2" cy="822.5" r="2.25" class="d"/><circle cx="60.2" cy="823" r="2.25" class="d"/><circle cx="60.2" cy="823.5" r="2.25" class="d"/><circle cx="60.2" cy="824" r="2.25" class="d"/><circle cx="60.2" cy="824.5" r="2.25" class="d"/><circle cx="60.2" cy="825" r="2.25" class="d"/><circle cx="60.2" cy="825.5" r="2.25" class="d"/><circle cx="60.2" cy="826" r="2.25" class="d"/><circle cx="60.2" cy="826.5" r="2.25" class="d"/><circle cx="60.2" cy="827" r="2.25" class="d"/><circle cx="60.2" cy="827.5" r="2.25" class="d"/><circle cx="60.2" cy="828" r="2.25" class="d"/><circle cx="60.2" cy="828.5" r="2.25" class="d"/><circle cx="60.2" cy="829" r="2.25" class="d"/><circle cx="60.2" cy="829.5" r="2.25" class="d"/><circle cx="60.2" cy="830" r="2.25" class="d"/><circle cx="60.2" cy="830.5" r="2.25" class="d"/><circle cx="60.2" cy="831" r="2.25" class="d"/><circle cx="60.2" cy="831.5" r="2.25" class="d"/><circle cx="60.2" cy="832" r="2.25" class="d"/><circle cx="88.6" cy="793.7" r="2.15"/><circle cx="88.6" cy="806.4" r="2.15"/><circle cx="88.6" cy="826.8" r="2.15"/><circle cx="88.6" cy="828" r="2.15"/><circle cx="88.6" cy="829.3" r="2.15"/><circle cx="88.6" cy="830.8" r="2.15"/><circle cx="88.6" cy="831.6" r="2.15"/><circle cx="117" cy="801.1" r="2.15"/><circle cx="117" cy="821.3" r="2.15"/><circle cx="117" cy="826.5" r="2.15"/><circle cx="117" cy="827.8" r="2.15"/><circle cx="117" cy="829.5" r="2.15"/><circle cx="117" cy="830.9" r="2.15"/><circle cx="117" cy="831.7" r="2.15"/><circle cx="145.4" cy="827.4" r="2.15"/><circle cx="145.4" cy="829.6" r="2.15"/><circle cx="145.4" cy="831.95" r="2.15"/><circle cx="145.4" cy="832.45" r="2.15"/><circle cx="173.8" cy="830.3" r="2.15"/><circle cx="173.8" cy="831.95" r="2.15"/><circle cx="173.8" cy="832.45" r="2.15"/><circle cx="202.2" cy="831.95" r="2.15"/><circle cx="202.2" cy="832.45" r="2.15"/><circle cx="230.6" cy="832.2" r="2.15"/><circle cx="259" cy="832.2" r="2.15"/><circle cx="287.4" cy="832.2" r="2.15"/><circle cx="315.8" cy="831.95" r="2.15"/><circle cx="315.8" cy="832.45" r="2.15"/></g>
<rect x="401.3" y="717.64" width="275.7" height="118.66" class="ln"/>
<path d="M439.73 836.3H667.17M401.3 730.66V832.1" class="ax"/>
<path d="M439.73 836.3V842.7M496.59 836.3V842.7M553.45 836.3V842.7M610.31 836.3V842.7M667.17 836.3V842.7M401.3 832.1H395M401.3 806.74H395M401.3 781.38H395M401.3 756.02H395M401.3 730.66H395" class="ln"/>
<text x="439.73" y="858.6" class="t" text-anchor="middle">2</text>
<text x="496.59" y="858.6" class="t" text-anchor="middle">4</text>
<text x="553.45" y="858.6" class="t" text-anchor="middle">6</text>
<text x="610.31" y="858.6" class="t" text-anchor="middle">8</text>
<text x="667.17" y="858.6" class="t" text-anchor="middle">10</text>
<text transform="translate(387.4 832.1) rotate(-90)" class="t" text-anchor="middle">0</text>
<text transform="translate(387.4 806.74) rotate(-90)" class="t" text-anchor="middle">5000</text>
<text transform="translate(387.4 756.02) rotate(-90)" class="t" text-anchor="middle">15000</text>
<text transform="translate(363 777.9) rotate(-90)" class="t" text-anchor="middle">Number of retweets</text>
<text x="539.2" y="882.9" class="t" text-anchor="middle">Number of NEs</text>
<text x="544.4" y="914.2" class="cap" text-anchor="middle">(h)</text>
<g class="c"><circle cx="411.3" cy="722" r="2.15"/><circle cx="411.3" cy="760.75" r="2.15"/><circle cx="411.3" cy="761.25" r="2.15"/><circle cx="411.3" cy="781.2" r="2.15"/><circle cx="411.3" cy="784.2" r="2.15"/><circle cx="411.3" cy="791.5" r="2.15"/><circle cx="411.3" cy="801.1" r="2.15"/><circle cx="411.3" cy="803" r="2.15"/><circle cx="411.3" cy="804.9" r="2.15"/><circle cx="411.3" cy="806.8" r="2.15"/><circle cx="411.3" cy="808.7" r="2.15"/><circle cx="411.3" cy="810.6" r="2.15"/><circle cx="411.3" cy="812.5" r="2.15"/><circle cx="411.3" cy="814.4" r="2.15"/><circle cx="411.3" cy="816.3" r="2.15"/><circle cx="411.3" cy="818.2" r="2.15"/><circle cx="411.3" cy="821" r="2.25" class="d"/><circle cx="411.3" cy="821.5" r="2.25" class="d"/><circle cx="411.3" cy="822" r="2.25" class="d"/><circle cx="411.3" cy="822.5" r="2.25" class="d"/><circle cx="411.3" cy="823" r="2.25" class="d"/><circle cx="411.3" cy="823.5" r="2.25" class="d"/><circle cx="411.3" cy="824" r="2.25" class="d"/><circle cx="411.3" cy="824.5" r="2.25" class="d"/><circle cx="411.3" cy="825" r="2.25" class="d"/><circle cx="411.3" cy="825.5" r="2.25" class="d"/><circle cx="411.3" cy="826" r="2.25" class="d"/><circle cx="411.3" cy="826.5" r="2.25" class="d"/><circle cx="411.3" cy="827" r="2.25" class="d"/><circle cx="411.3" cy="827.5" r="2.25" class="d"/><circle cx="411.3" cy="828" r="2.25" class="d"/><circle cx="411.3" cy="828.5" r="2.25" class="d"/><circle cx="411.3" cy="829" r="2.25" class="d"/><circle cx="411.3" cy="829.5" r="2.25" class="d"/><circle cx="411.3" cy="830" r="2.25" class="d"/><circle cx="411.3" cy="830.5" r="2.25" class="d"/><circle cx="411.3" cy="831" r="2.25" class="d"/><circle cx="411.3" cy="831.5" r="2.25" class="d"/><circle cx="439.73" cy="812.4" r="2.15"/><circle cx="439.73" cy="816.9" r="2.15"/><circle cx="439.73" cy="821.9" r="2.15"/><circle cx="439.73" cy="826.8" r="2.15"/><circle cx="439.73" cy="827" r="2.25" class="d"/><circle cx="439.73" cy="827.5" r="2.25" class="d"/><circle cx="439.73" cy="828" r="2.25" class="d"/><circle cx="439.73" cy="828.5" r="2.25" class="d"/><circle cx="439.73" cy="829" r="2.25" class="d"/><circle cx="439.73" cy="829.5" r="2.25" class="d"/><circle cx="439.73" cy="830" r="2.25" class="d"/><circle cx="439.73" cy="830.5" r="2.25" class="d"/><circle cx="439.73" cy="831" r="2.25" class="d"/><circle cx="439.73" cy="831.5" r="2.25" class="d"/><circle cx="468.16" cy="794.4" r="2.15"/><circle cx="468.16" cy="821" r="2.15"/><circle cx="468.16" cy="827.4" r="2.25" class="d"/><circle cx="468.16" cy="827.9" r="2.25" class="d"/><circle cx="468.16" cy="828.4" r="2.25" class="d"/><circle cx="468.16" cy="828.9" r="2.25" class="d"/><circle cx="468.16" cy="829.4" r="2.25" class="d"/><circle cx="468.16" cy="829.9" r="2.25" class="d"/><circle cx="468.16" cy="830.4" r="2.25" class="d"/><circle cx="468.16" cy="830.9" r="2.25" class="d"/><circle cx="468.16" cy="831.4" r="2.25" class="d"/><circle cx="468.16" cy="831.5" r="2.25" class="d"/><circle cx="496.59" cy="821.1" r="2.15"/><circle cx="496.59" cy="826.5" r="2.15"/><circle cx="496.59" cy="828.9" r="2.15"/><circle cx="496.59" cy="831.3" r="2.15"/><circle cx="496.59" cy="831.9" r="2.15"/><circle cx="525.02" cy="820.85" r="2.15"/><circle cx="525.02" cy="821.35" r="2.15"/><circle cx="525.02" cy="829" r="2.15"/><circle cx="525.02" cy="829.8" r="2.15"/><circle cx="525.02" cy="830.6" r="2.15"/><circle cx="525.02" cy="831.4" r="2.15"/><circle cx="525.02" cy="832" r="2.15"/><circle cx="553.45" cy="831.65" r="2.15"/><circle cx="553.45" cy="832.15" r="2.15"/><circle cx="581.88" cy="831.9" r="2.15"/><circle cx="610.31" cy="831.9" r="2.15"/><circle cx="638.74" cy="831.9" r="2.15"/><circle cx="667.17" cy="831.65" r="2.15"/><circle cx="667.17" cy="832.15" r="2.15"/></g>
<rect x="49.9" y="953.5" width="276.1" height="118.6" class="ln"/>
<path d="M88.6 1072.1H315.8M49.9 971.62V1067.9" class="ax"/>
<path d="M88.6 1072.1V1078.5M145.4 1072.1V1078.5M202.2 1072.1V1078.5M259 1072.1V1078.5M315.8 1072.1V1078.5M49.9 1067.9H43.6M49.9 1043.83H43.6M49.9 1019.76H43.6M49.9 995.69H43.6M49.9 971.62H43.6" class="ln"/>
<text x="88.6" y="1094.4" class="t" text-anchor="middle">2</text>
<text x="145.4" y="1094.4" class="t" text-anchor="middle">4</text>
<text x="202.2" y="1094.4" class="t" text-anchor="middle">6</text>
<text x="259" y="1094.4" class="t" text-anchor="middle">8</text>
<text x="315.8" y="1094.4" class="t" text-anchor="middle">10</text>
<text transform="translate(36.3 1067.9) rotate(-90)" class="t" text-anchor="middle">0e+00</text>
<text transform="translate(36.3 1019.76) rotate(-90)" class="t" text-anchor="middle">2e+07</text>
<text transform="translate(36.3 971.62) rotate(-90)" class="t" text-anchor="middle">4e+07</text>
<text transform="translate(12 1013.7) rotate(-90)" class="t" text-anchor="middle">Number of followers</text>
<text x="188" y="1118.7" class="t" text-anchor="middle">Number of NEs</text>
<text x="187.5" y="1145.6" class="cap" text-anchor="middle">(i)</text>
<g class="c"><circle cx="60.2" cy="957.9" r="2.15"/><circle cx="60.2" cy="1013.9" r="2.15"/><circle cx="60.2" cy="1049.2" r="2.15"/><circle cx="60.2" cy="1052.6" r="2.15"/><circle cx="60.2" cy="1055" r="2.15"/><circle cx="60.2" cy="1057.5" r="2.25" class="d"/><circle cx="60.2" cy="1058" r="2.25" class="d"/><circle cx="60.2" cy="1058.5" r="2.25" class="d"/><circle cx="60.2" cy="1059" r="2.25" class="d"/><circle cx="60.2" cy="1059.5" r="2.25" class="d"/><circle cx="60.2" cy="1060" r="2.25" class="d"/><circle cx="60.2" cy="1060.5" r="2.25" class="d"/><circle cx="60.2" cy="1061" r="2.25" class="d"/><circle cx="60.2" cy="1061.5" r="2.25" class="d"/><circle cx="60.2" cy="1062" r="2.25" class="d"/><circle cx="60.2" cy="1062.5" r="2.25" class="d"/><circle cx="60.2" cy="1063" r="2.25" class="d"/><circle cx="60.2" cy="1063.5" r="2.25" class="d"/><circle cx="60.2" cy="1064" r="2.25" class="d"/><circle cx="60.2" cy="1064.5" r="2.25" class="d"/><circle cx="60.2" cy="1065" r="2.25" class="d"/><circle cx="60.2" cy="1065.5" r="2.25" class="d"/><circle cx="60.2" cy="1066" r="2.25" class="d"/><circle cx="60.2" cy="1066.5" r="2.25" class="d"/><circle cx="60.2" cy="1067" r="2.25" class="d"/><circle cx="60.2" cy="1067.5" r="2.25" class="d"/><circle cx="60.2" cy="1068" r="2.25" class="d"/><circle cx="88.6" cy="1011.9" r="2.15"/><circle cx="88.6" cy="1053.1" r="2.15"/><circle cx="88.6" cy="1059.5" r="2.15"/><circle cx="88.6" cy="1061" r="2.15"/><circle cx="88.6" cy="1062.5" r="2.25" class="d"/><circle cx="88.6" cy="1063" r="2.25" class="d"/><circle cx="88.6" cy="1063.5" r="2.25" class="d"/><circle cx="88.6" cy="1064" r="2.25" class="d"/><circle cx="88.6" cy="1064.5" r="2.25" class="d"/><circle cx="88.6" cy="1065" r="2.25" class="d"/><circle cx="88.6" cy="1065.5" r="2.25" class="d"/><circle cx="88.6" cy="1066" r="2.25" class="d"/><circle cx="88.6" cy="1066.5" r="2.25" class="d"/><circle cx="88.6" cy="1067" r="2.25" class="d"/><circle cx="88.6" cy="1067.5" r="2.25" class="d"/><circle cx="88.6" cy="1068" r="2.25" class="d"/><circle cx="117" cy="1035.8" r="2.15"/><circle cx="117" cy="1037.6" r="2.15"/><circle cx="117" cy="1038.8" r="2.15"/><circle cx="117" cy="1057.2" r="2.15"/><circle cx="117" cy="1062.1" r="2.15"/><circle cx="117" cy="1066.6" r="2.15"/><circle cx="117" cy="1067.3" r="2.15"/><circle cx="117" cy="1068" r="2.15"/><circle cx="145.4" cy="1062.9" r="2.15"/><circle cx="145.4" cy="1067.45" r="2.15"/><circle cx="145.4" cy="1067.95" r="2.15"/><circle cx="173.8" cy="1067.45" r="2.15"/><circle cx="173.8" cy="1067.95" r="2.15"/><circle cx="202.2" cy="1067.45" r="2.15"/><circle cx="202.2" cy="1067.95" r="2.15"/><circle cx="230.6" cy="1067.7" r="2.15"/><circle cx="259" cy="1067.7" r="2.15"/><circle cx="287.4" cy="1067.7" r="2.15"/><circle cx="315.8" cy="1067.45" r="2.15"/><circle cx="315.8" cy="1067.95" r="2.15"/></g>
<rect x="401.4" y="953.5" width="276.1" height="118.8" class="ln"/>
<path d="M411.3 1072.3H667.3M401.4 969.69V1068" class="ax"/>
<path d="M411.3 1072.3V1078.7M462.5 1072.3V1078.7M513.7 1072.3V1078.7M564.9 1072.3V1078.7M616.1 1072.3V1078.7M667.3 1072.3V1078.7M401.4 1068H395.1M401.4 1035.23H395.1M401.4 1002.46H395.1M401.4 969.69H395.1" class="ln"/>
<text x="411.3" y="1094.6" class="t" text-anchor="middle">1</text>
<text x="462.5" y="1094.6" class="t" text-anchor="middle">2</text>
<text x="513.7" y="1094.6" class="t" text-anchor="middle">3</text>
<text x="564.9" y="1094.6" class="t" text-anchor="middle">4</text>
<text x="616.1" y="1094.6" class="t" text-anchor="middle">5</text>
<text x="667.3" y="1094.6" class="t" text-anchor="middle">6</text>
<text transform="translate(387.4 1068) rotate(-90)" class="t" text-anchor="middle">0</text>
<text transform="translate(387.4 1035.23) rotate(-90)" class="t" text-anchor="middle">50000</text>
<text transform="translate(387.4 969.7) rotate(-90)" class="t" text-anchor="middle">150000</text>
<text transform="translate(363 1013.9) rotate(-90)" class="t" text-anchor="middle">Favourite count</text>
<text x="539.2" y="1118.9" class="t" text-anchor="middle">Number of NEs</text>
<text x="546.4" y="1146" class="cap" text-anchor="middle">(j)</text>
<g class="c"><circle cx="411.3" cy="957.2" r="2.15"/><circle cx="411.3" cy="958.4" r="2.15"/><circle cx="411.3" cy="986.2" r="2.15"/><circle cx="411.3" cy="1039.9" r="2.15"/><circle cx="411.3" cy="1048.1" r="2.15"/><circle cx="411.3" cy="1050.2" r="2.15"/><circle cx="411.3" cy="1052.8" r="2.15"/><circle cx="411.3" cy="1059.2" r="2.15"/><circle cx="411.3" cy="1061" r="2.25" class="d"/><circle cx="411.3" cy="1061.5" r="2.25" class="d"/><circle cx="411.3" cy="1062" r="2.25" class="d"/><circle cx="411.3" cy="1062.5" r="2.25" class="d"/><circle cx="411.3" cy="1063" r="2.25" class="d"/><circle cx="411.3" cy="1063.5" r="2.25" class="d"/><circle cx="411.3" cy="1064" r="2.25" class="d"/><circle cx="411.3" cy="1064.5" r="2.25" class="d"/><circle cx="411.3" cy="1065" r="2.25" class="d"/><circle cx="411.3" cy="1065.5" r="2.25" class="d"/><circle cx="411.3" cy="1066" r="2.25" class="d"/><circle cx="411.3" cy="1066.5" r="2.25" class="d"/><circle cx="411.3" cy="1067" r="2.25" class="d"/><circle cx="411.3" cy="1067.5" r="2.25" class="d"/><circle cx="411.3" cy="1068" r="2.25" class="d"/><circle cx="462.5" cy="1061.9" r="2.15"/><circle cx="462.5" cy="1066.8" r="2.15"/><circle cx="462.5" cy="1067.4" r="2.15"/><circle cx="462.5" cy="1068" r="2.15"/><circle cx="513.7" cy="1056.3" r="2.15"/><circle cx="513.7" cy="1060.8" r="2.15"/><circle cx="513.7" cy="1063.8" r="2.15"/><circle cx="513.7" cy="1065.9" r="2.15"/><circle cx="513.7" cy="1067.2" r="2.15"/><circle cx="513.7" cy="1067.9" r="2.15"/><circle cx="564.9" cy="1067.45" r="2.15"/><circle cx="564.9" cy="1067.95" r="2.15"/><circle cx="616.1" cy="1067.7" r="2.15"/><circle cx="667.3" cy="1067.7" r="2.15"/></g>
<rect x="663" y="901.6" width="1.4" height="1.6" fill="#555"/>
</svg>
</body></html>
